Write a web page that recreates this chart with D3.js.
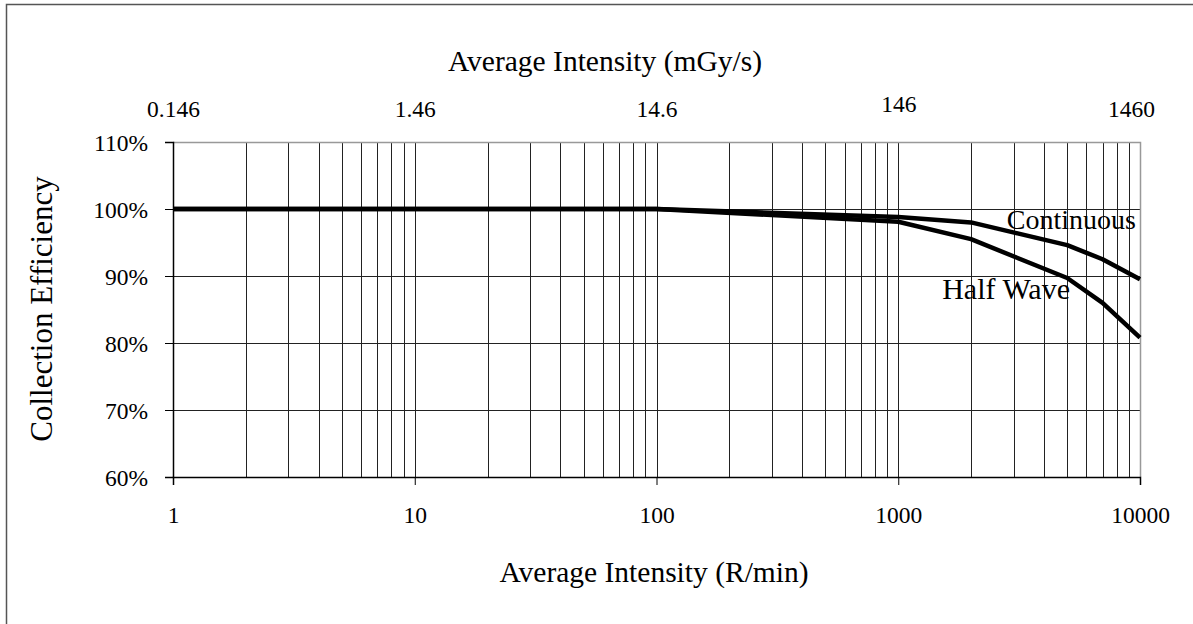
<!DOCTYPE html>
<html>
<head>
<meta charset="utf-8">
<script src="https://cdn.jsdelivr.net/npm/d3@7"></script>
<style>
  html, body { margin: 0; padding: 0; background: #fff; }
  svg { display: block; }
  text { font-family: "Liberation Serif", "Times New Roman", serif; fill: #000; }
</style>
</head>
<body>
<svg id="chart" width="1193" height="624"></svg>
<script>
// ---- data ----
const intensityRmin = [1, 100, 1000, 2000, 5000, 7000, 10000];
const continuous    = [1.000, 1.000, 0.988, 0.980, 0.946, 0.925, 0.895];
const halfWave      = [1.000, 1.000, 0.981, 0.955, 0.897, 0.860, 0.808];
const bottomTicks   = [1, 10, 100, 1000, 10000];
const topTicks      = [0.146, 1.46, 14.6, 146, 1460];
const topTickLabels = ["0.146", "1.46", "14.6", "146", "1460"];
const yTicks        = [0.6, 0.7, 0.8, 0.9, 1.0, 1.1];
const seriesNames   = ["Continuous", "Half Wave"];

// ---- layout ----
const svg = d3.select("#chart");
const m = { left: 173, right: 1140, top: 142, bottom: 477 };

const x = d3.scaleLog().domain([1, 10000]).range([m.left, m.right]);
const xTop = d3.scaleLog().domain([0.146, 1460]).range([m.left, m.right]);
const y = d3.scaleLinear().domain([0.6, 1.1]).range([m.bottom, m.top]);

// outer frame (only left & top visible in the reference)
svg.append("rect")
  .attr("x", 6.5).attr("y", 4.5)
  .attr("width", 1200).attr("height", 640)
  .attr("fill", "none").attr("stroke", "#555").attr("stroke-width", 1.5);

// vertical grid lines (every minor value)
const minor = [];
for (let d = 1; d < 10000; d *= 10) for (let k = 1; k < 10; k++) minor.push(d * k);
svg.append("g").selectAll("line").data(minor.filter(v => v > 1 && v < 10000)).join("line")
  .attr("x1", d => Math.round(x(d)) + 0.5).attr("x2", d => Math.round(x(d)) + 0.5)
  .attr("y1", m.top).attr("y2", m.bottom)
  .attr("stroke", "#222").attr("stroke-width", 1);

// horizontal grid lines
svg.append("g").selectAll("line").data(yTicks.filter(v => v > 0.6 && v < 1.1)).join("line")
  .attr("x1", m.left).attr("x2", m.right)
  .attr("y1", d => Math.round(y(d)) + 0.5).attr("y2", d => Math.round(y(d)) + 0.5)
  .attr("stroke", "#222").attr("stroke-width", 1);

// plot border top & right (grey)
svg.append("path")
  .attr("d", `M${m.left},${m.top + 0.5}H${m.right + 0.5}V${m.bottom}`)
  .attr("fill", "none").attr("stroke", "#999").attr("stroke-width", 1.5);

// y axis
const yAxis = svg.append("g").attr("transform", `translate(${m.left},0)`)
  .call(d3.axisLeft(y).tickValues(yTicks).tickFormat(d3.format(".0%")).tickSize(8).tickPadding(17));
yAxis.select(".domain").attr("stroke", "#000").attr("stroke-width", 1.5);
yAxis.selectAll(".tick line").attr("stroke", "#000");
yAxis.selectAll(".tick text").attr("font-size", 23.5).attr("font-family", "Liberation Serif").attr("dy", "0.35em");

// bottom axis
const xAxis = svg.append("g").attr("transform", `translate(0,${m.bottom})`)
  .call(d3.axisBottom(x).tickValues(bottomTicks).tickFormat(d3.format("d")).tickSize(8).tickPadding(21));
xAxis.select(".domain").attr("stroke", "#000").attr("stroke-width", 1.5);
xAxis.selectAll(".tick line").attr("stroke", "#000");
xAxis.selectAll(".tick text").attr("font-size", 23.5).attr("font-family", "Liberation Serif");

// top axis labels (no tick marks)
const xTopAxis = svg.append("g").attr("transform", `translate(0,${m.top})`)
  .call(d3.axisTop(xTop).tickValues(topTicks).tickFormat((d, i) => topTickLabels[i]).tickSize(0).tickPadding(25));
xTopAxis.select(".domain").remove();
xTopAxis.selectAll(".tick text").attr("font-size", 23.5).attr("font-family", "Liberation Serif");
xTopAxis.selectAll(".tick text").filter((d, i) => i === 3).attr("dy", "-0.2em");
xTopAxis.selectAll(".tick text").filter((d, i) => i === 4).attr("dx", "-9");

// lines
const line = d3.line().x((d, i) => x(intensityRmin[i])).y(d => y(d));
[continuous, halfWave].forEach(s => {
  svg.append("path").datum(s)
    .attr("d", line)
    .attr("fill", "none").attr("stroke", "#000").attr("stroke-width", 4.5)
    .attr("stroke-linejoin", "round");
});

// series labels
svg.append("text").attr("x", 1136).attr("y", 229).attr("text-anchor", "end")
  .attr("font-size", 28).text(seriesNames[0]);
svg.append("text").attr("x", 1070).attr("y", 299).attr("text-anchor", "end")
  .attr("font-size", 30).text(seriesNames[1]);

// axis titles
svg.append("text").attr("x", 605).attr("y", 71).attr("text-anchor", "middle")
  .attr("font-size", 29.5).text("Average Intensity (mGy/s)");
svg.append("text").attr("x", 654).attr("y", 582).attr("text-anchor", "middle")
  .attr("font-size", 29.5).text("Average Intensity (R/min)");
svg.append("text").attr("transform", `translate(52,309) rotate(-90)`)
  .attr("text-anchor", "middle").attr("font-size", 31).text("Collection Efficiency");
</script>
</body>
</html>
